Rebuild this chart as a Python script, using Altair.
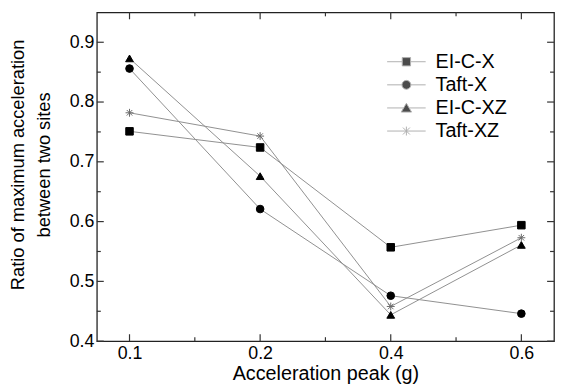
import altair as alt
import pandas as pd

peaks = ["0.1", "0.2", "0.4", "0.6"]
series_names = ["EI-C-X", "Taft-X", "EI-C-XZ", "Taft-XZ"]
ei_c_x = [0.751, 0.724, 0.557, 0.594]
taft_x = [0.856, 0.621, 0.476, 0.446]
ei_c_xz = [0.873, 0.676, 0.444, 0.561]
taft_xz = [0.782, 0.743, 0.458, 0.573]

y_major = [0.4, 0.5, 0.6, 0.7, 0.8, 0.9]
y_minor = [0.45, 0.55, 0.65, 0.75, 0.85]
x_major = [0, 1, 2, 3]
x_minor = [0.5, 1.5, 2.5]

rows = []
for name, vals in zip(series_names, [ei_c_x, taft_x, ei_c_xz, taft_xz]):
    for i, (p, v) in enumerate(zip(peaks, vals)):
        rows.append({"series": name, "pos": i, "peak": p, "ratio": v})
df = pd.DataFrame(rows)

W, H = 463, 333
FONT = "Liberation Sans"
TICK = "#333333"
LINE = "#8f8f8f"
xscale = alt.Scale(domain=[-0.25, 3.25], nice=False, zero=False)
yscale = alt.Scale(domain=[0.4, 0.95], nice=False, zero=False)
label_expr = "[" + ",".join(f"'{p}'" for p in peaks) + "][datum.value]"

base = alt.Chart(df)

lines = base.mark_line(color=LINE, strokeWidth=1).encode(
    x=alt.X("pos:Q", scale=xscale, axis=alt.Axis(
        values=x_major, labelExpr=label_expr, tickSize=0, domain=False, grid=False,
        labelFlush=False, title="Acceleration peak (g)", labelFont=FONT, labelFontSize=18,
        titleFont=FONT, titleFontSize=20, titleFontWeight="normal", labelPadding=4,
        titlePadding=1, labelColor="black", titleColor="black")),
    y=alt.Y("ratio:Q", scale=yscale, axis=alt.Axis(
        values=y_major, format=".1f", tickSize=0, domain=False, grid=False,
        title=["Ratio of maximum acceleration", "between two sites"],
        labelFont=FONT, labelFontSize=18, titleFont=FONT, titleFontSize=18.5,
        titleFontWeight="normal", titleLineHeight=26, labelPadding=3, titlePadding=16,
        titleY=154, labelColor="black", titleColor="black", labelFlush=False)),
    detail="series:N",
)

ASTER = "M-1,0H1M0,-1V1M-0.7,-0.7L0.7,0.7M-0.7,0.7L0.7,-0.7"
marker_shapes = ["square", "circle", "triangle-up", ASTER]

points = base.mark_point(filled=True, strokeWidth=1, opacity=1).encode(
    x=alt.X("pos:Q", scale=xscale, axis=None),
    y=alt.Y("ratio:Q", scale=yscale, axis=None),
    shape=alt.Shape("series:N", scale=alt.Scale(domain=series_names, range=marker_shapes), legend=None),
    fill=alt.Fill("series:N", scale=alt.Scale(domain=series_names, range=["black", "black", "black", "transparent"]), legend=None),
    stroke=alt.Stroke("series:N", scale=alt.Scale(domain=series_names, range=["black", "black", "black", "#6a6a6a"]), legend=None),
    size=alt.Size("series:N", scale=alt.Scale(domain=series_names, range=[58, 64, 95, 110]), legend=None),
)

legend_paths = [
    "M-1.95,0H-0.42M0.42,0H1.95M-0.42,-0.42H0.42V0.42H-0.42Z",
    "M-1.95,0H-0.45M0.45,0H1.95M0.45,0A0.45,0.45,0,1,1,-0.45,0A0.45,0.45,0,1,1,0.45,0Z",
    "M-1.95,0H-0.3M0.3,0H1.95M0,-0.47L0.52,0.42L-0.52,0.42Z",
    "M-1.95,0H1.95M0,-0.45V0.45M-0.35,-0.35L0.35,0.35M-0.35,0.35L0.35,-0.35",
]

legend_layer = base.transform_filter("false").mark_point(filled=False, strokeWidth=1).encode(
    shape=alt.Shape("series:N", scale=alt.Scale(domain=series_names, range=legend_paths),
                    legend=alt.Legend(title=None, orient="none", legendX=303, legendY=39.5,
                                      symbolSize=400, symbolStrokeWidth=1,
                                      labelFont=FONT, labelFontSize=20, labelOffset=19,
                                      rowPadding=2.4, padding=0, labelColor="black")),
    fill=alt.value("black"),
    stroke=alt.value(LINE),
)


def vrules(vals, x0, x1):
    return alt.Chart(pd.DataFrame({"v": vals})).mark_rule(color=TICK, strokeWidth=1.2).encode(
        y=alt.Y("v:Q", scale=yscale, axis=None), x=alt.value(x0), x2=alt.value(x1))


def hrules(vals, y0, y1):
    return alt.Chart(pd.DataFrame({"v": vals})).mark_rule(color=TICK, strokeWidth=1.2).encode(
        x=alt.X("v:Q", scale=xscale, axis=None), y=alt.value(y0), y2=alt.value(y1))


ticks = [
    vrules(y_major, 0, 7), vrules(y_minor, 0, 4),
    vrules(y_major, W - 7, W), vrules(y_minor, W - 4, W),
    hrules(x_major, H, H - 7), hrules(x_minor, H, H - 4),
    hrules(x_major, 0, 7), hrules(x_minor, 0, 4),
]

chart = alt.layer(lines, *ticks, points, legend_layer).resolve_scale(
    shape="independent", fill="independent", stroke="independent", size="independent"
).resolve_axis(x="independent", y="independent").properties(
    width=W, height=H, padding={"left": 0, "top": 1, "right": 0, "bottom": 0}
).configure_view(stroke="#222222", strokeWidth=1.3)

chart.save("out.html", embed_options={"renderer": "svg", "actions": False})
